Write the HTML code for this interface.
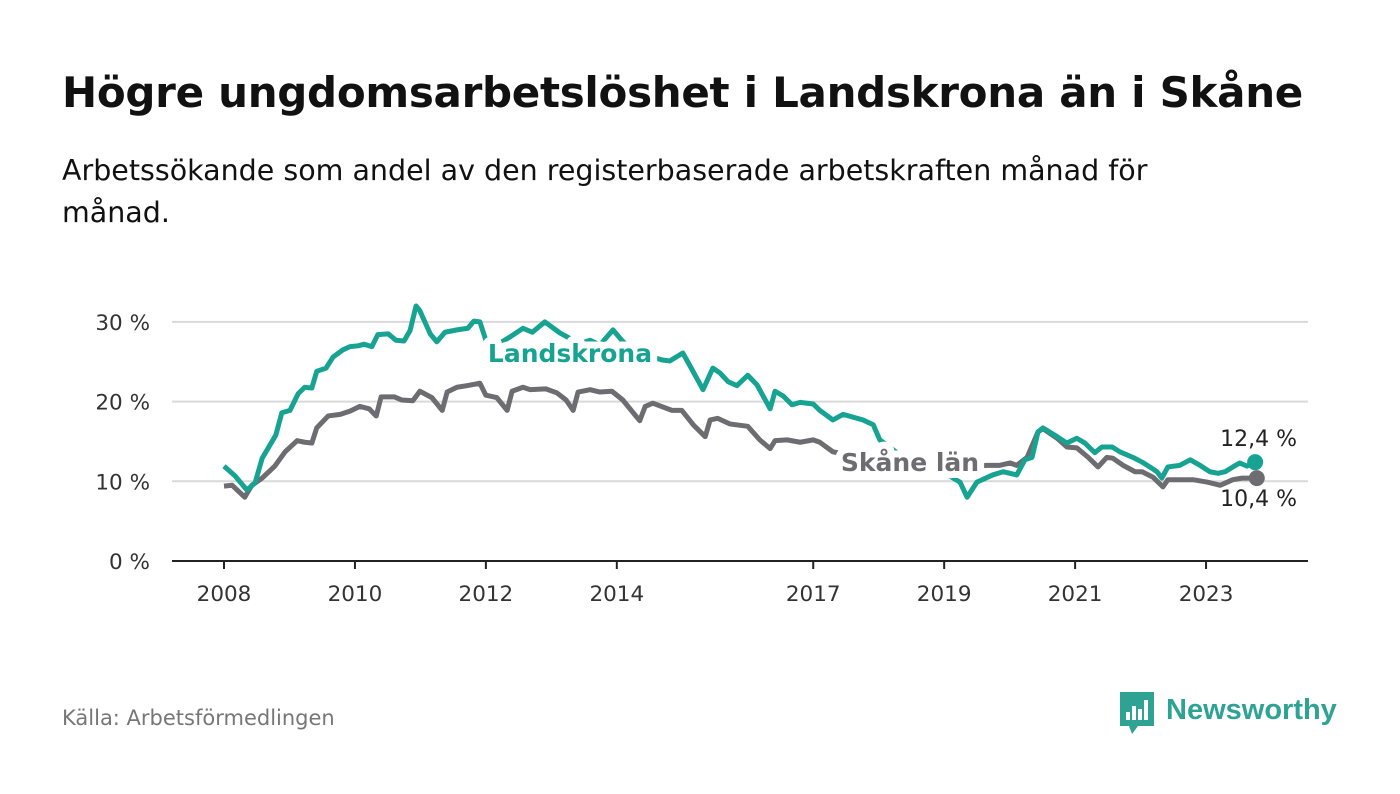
<!DOCTYPE html>
<html><head><meta charset="utf-8"><style>
body{margin:0;width:1400px;height:794px;background:#fff;font-family:"DejaVu Sans",sans-serif;overflow:hidden;position:relative}
#t{position:absolute;left:62px;top:68px;font-size:42px;font-weight:bold;color:#111;margin:0;letter-spacing:-0.3px;white-space:nowrap}
#s{position:absolute;left:62px;top:150px;font-size:28.5px;color:#111;line-height:42px;width:1180px}
#src{position:absolute;left:62px;top:706px;font-size:21px;color:#777}
svg{position:absolute;left:0;top:0}
</style></head><body>
<h1 id="t">Högre ungdomsarbetslöshet i Landskrona än i Skåne</h1>
<div id="s">Arbetssökande som andel av den registerbaserade arbetskraften månad för månad.</div>
<div id="src">Källa: Arbetsförmedlingen</div>
<svg id="c" width="1400" height="794"></svg>
<script>
const yTicks=[0,10,20,30];
const xTickYears=[2008,2010,2012,2014,2017,2019,2021,2023];
const landM=[0,2,4.2,5.7,7,9.5,10.6,12.1,13.6,14.8,16.1,17,18.7,20,21.8,23.1,24.6,25.7,27.1,28.2,30.1,31.5,33,34.1,35.2,35.9,37.8,39,40.5,42.7,44.7,45.8,46.9,48,50,52.4,54.8,56.5,58.8,61.6,64,65.8,67.1,68.9,71.3,72.9,74.4,77.2,80.5,81.7,84.1,85.4,87.8,89.6,90.9,92.4,94,96,97.7,100.1,101,102.5,104.1,105.6,108,109.2,111.6,113.5,117.1,119,120.2,123.9,127.6,131.2,134.9,136.2,138,140.9,142.8,145.3,146.8,148.1,149.2,150.1,152.7,154.5,156.3,157.8,159.6,160.9,162.8,164.2,166.6,168.3,169.7,171,171.9,173,175.2,177.1,178.9,180.7,182.2,183.5,184.9,186.2,187.5,189];
const landV=[11.9,10.7,8.9,9.8,12.9,15.8,18.6,18.9,21,21.8,21.7,23.8,24.2,25.6,26.5,26.9,27,27.2,26.9,28.4,28.5,27.7,27.6,28.9,32,31.4,28.5,27.5,28.7,29,29.2,30.1,30,27.7,27.1,28.1,29.2,28.7,30,28.6,27.7,27.4,27.7,27.1,29,27.7,26.7,25.8,25.2,25.1,26.1,24.5,21.5,24.2,23.6,22.5,22,23.3,22.1,19.1,21.3,20.7,19.6,19.9,19.7,18.9,17.7,18.4,17.7,17.1,15.2,13.3,12,11.4,9.9,8,9.9,10.8,11.2,10.8,12.7,13,16.2,16.7,15.6,14.8,15.4,14.8,13.6,14.3,14.3,13.7,13,12.4,11.8,11.2,10.4,11.8,12,12.7,12,11.2,11,11.2,11.8,12.3,11.9,12.4];
const skaneM=[0,1.5,3.8,5.1,7,9.3,11.2,13.4,14.8,16.1,17,19.1,21.3,23.1,24.9,26.6,27.9,28.8,31.2,32.6,34.6,35.9,38.1,40,40.9,42.7,44.5,46.9,48,50,51.9,52.8,54.8,56.1,59,61,62.7,64,64.9,67.1,68.9,71.1,73.1,76.2,77.2,78.6,82.1,83.9,86,88.2,89.1,90.5,92.7,96,98.2,100.1,101,103.2,105.6,108,109.2,111.6,114.7,123.9,133.1,137.6,139.8,142.2,144.1,145.3,147.2,149.2,150.1,152.7,154.5,156.3,158.4,160.2,161.8,162.9,164.8,167,168.3,170.3,172.1,173,177.6,180.2,182.6,184.9,186.6,189.3];
const skaneV=[9.4,9.5,8,9.5,10.4,11.9,13.7,15.1,14.9,14.8,16.7,18.2,18.4,18.8,19.4,19.1,18.2,20.6,20.6,20.2,20.1,21.3,20.5,18.9,21.2,21.8,22,22.3,20.8,20.5,18.9,21.3,21.8,21.5,21.6,21.1,20.2,18.9,21.2,21.5,21.2,21.3,20.2,17.6,19.4,19.8,18.9,18.9,17.1,15.6,17.7,17.9,17.2,16.9,15.2,14.1,15.1,15.2,14.9,15.2,14.9,13.7,13.3,12.4,11.7,11.9,12,12,12.3,12,13,16.2,16.6,15.4,14.3,14.2,13,11.8,13,12.9,12,11.2,11.2,10.5,9.3,10.2,10.2,9.9,9.5,10.2,10.4,10.4];
const lastLabels=["12,4 %","10,4 %"];
const NS="http://www.w3.org/2000/svg",svg=document.getElementById('c');
const X=m=>224+m*65.47/12, Xy=y=>224+(y-2008)*65.47, Y=v=>561-v*7.97;
function mk(t,a,p){const e=document.createElementNS(NS,t);for(const k in a)e.setAttribute(k,a[k]);(p||svg).appendChild(e);return e;}
const FF='DejaVu Sans, sans-serif';
yTicks.forEach(v=>{
 if(v>0){const g=mk('line',{x1:172,x2:1308,y1:Y(v),y2:Y(v),stroke:'#d9d9d9','stroke-width':2});
 
 }
 const t=mk('text',{x:150,y:Y(v)+8,'text-anchor':'end','font-size':21.5,fill:'#333','font-family':FF});t.textContent=v+' %';
 
 
});
const ax=mk('line',{x1:172,x2:1308,y1:561,y2:561,stroke:'#222','stroke-width':2});


xTickYears.forEach(y=>{
 const tk=mk('line',{x1:Xy(y),x2:Xy(y),y1:561,y2:569,stroke:'#222','stroke-width':2});
 
 
 const t=mk('text',{x:Xy(y),y:601,'text-anchor':'middle','font-size':21.5,fill:'#333','font-family':FF});t.textContent=y;
 
 
});
function line(ms,vs,col,name){
 const p=mk('polyline',{points:ms.map((m,i)=>X(m)+','+Y(vs[i])).join(' '),fill:'none',stroke:col,'stroke-width':5,'stroke-linejoin':'round'});
 
 
 const n=ms.length-1;
 const d=mk('circle',{cx:X(ms[n]),cy:Y(vs[n]),r:8,fill:col});
 
 
}
line(skaneM,skaneV,'#6d6c70','skane-line');
line(landM,landV,'#17a392','landskrona-line');
function lab(x,y,txt,col,name,anchor,w){
 const t=mk('text',{x:x,y:y,'text-anchor':anchor,'font-size':w?25:22,'font-weight':w?'bold':'normal',fill:col,stroke:'#fff','stroke-width':w?14:6,'paint-order':'stroke','stroke-linejoin':'round','font-family':FF});t.textContent=txt;
 
 
}
lab(570,362,'Landskrona','#17a392','landskrona-label','middle',true);
lab(910,471,'Skåne län','#6d6c70','skane-label','middle',true);
lab(1297,446,lastLabels[0],'#222','landskrona-last-value','end',false);
lab(1297,506,lastLabels[1],'#222','skane-last-value','end',false);
</script>
<svg width="1400" height="794">
<path d="M1120 692h34v34h-16l-6 8-3-8h-9z" fill="#2ea394"/>
<rect x="1126" y="712" width="4" height="8" fill="#fff"/><rect x="1132" y="706" width="4" height="14" fill="#fff"/><rect x="1138" y="709" width="4" height="11" fill="#fff"/><rect x="1144" y="700" width="4" height="20" fill="#fff"/>
<text x="1166" y="719" font-size="29" font-weight="bold" fill="#2ea394" font-family="Liberation Sans, sans-serif">Newsworthy</text>
</svg>
</body></html>
